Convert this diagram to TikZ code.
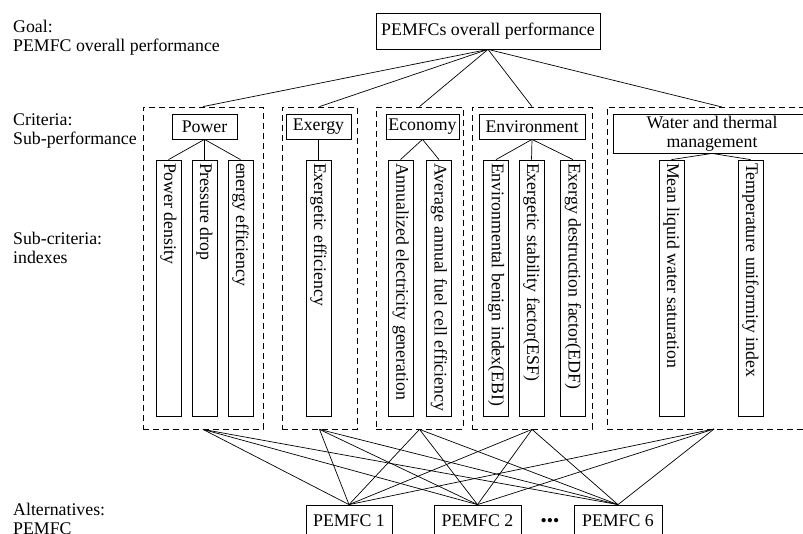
\documentclass[tikz,border=0pt]{standalone}
\usepackage{fontspec}
\setmainfont{Liberation Serif}
\begin{document}
\begin{tikzpicture}[x=1pt,y=-1pt]
\tikzset{
 base/.style={font=\fontsize{17.8}{19.5}\selectfont, inner sep=0pt},
 lbl/.style={base, anchor=base west, align=left},
 box/.style={base, draw, line width=0.8pt, minimum height=25pt},
 vbox/.style={base, draw, line width=0.8pt, rotate=-90, minimum width=256pt, minimum height=25pt, inner xsep=3pt},
 dbox/.style={draw, dash pattern=on 6pt off 4pt, line width=0.8pt, minimum height=322pt, inner sep=0pt},
 link/.style={line width=0.7pt},
}
\newcommand{\vtxt}[1]{\makebox[250pt][l]{#1}}
\useasboundingbox (0,0) rectangle (803,533);
\clip (0,0) rectangle (803,533);

% left labels
\node[lbl] (lg) at (13,51.5) {Goal:\\PEMFC overall performance};
\node[lbl] (lc) at (13,144.5) {Criteria:\\Sub-performance};
\node[lbl] (ls) at (13,263.5) {Sub-criteria:\\indexes};
\node[lbl] (la) at (13,534.5) {Alternatives:\\PEMFC};

% goal
\node[box, minimum width=224pt, minimum height=36pt] (goal) at (488,31) {PEMFCs overall performance};

% dashed groups
\node[dbox, minimum width=120pt] (dp) at (203,268) {};
\node[dbox, minimum width=75pt] (dx) at (319.5,268) {};
\node[dbox, minimum width=87pt] (de) at (419.5,268) {};
\node[dbox, minimum width=120pt] (dv) at (532,268) {};
\node[dbox, minimum width=223pt] (dw) at (718.5,268) {};
\coordinate (dwt) at (722,107);
\coordinate (dwb) at (714,429);

% criteria
\node[box, minimum width=65pt] (cp) at (204.5,126.5) {Power};
\node[box, minimum width=65pt] (cx) at (318.5,126.5) {Exergy};
\node[box, minimum width=73pt] (ce) at (422.5,126.5) {Economy};
\node[box, minimum width=106pt] (cv) at (532,126.5) {Environment};
\node[box, minimum width=198pt, minimum height=39pt, align=center] (cw) at (712,133.5) {Water and thermal\\management};

% sub-criteria
\node[vbox] (s1) at (168.5,288) {\vtxt{Power density}};
\node[vbox] (s2) at (204.5,288) {\vtxt{Pressure drop}};
\node[vbox] (s3) at (240.5,288) {\vtxt{energy efficiency}};
\node[vbox] (s4) at (318.5,288) {\vtxt{Exergetic efficiency}};
\node[vbox] (s5) at (400.5,288) {\vtxt{Annualized electricity generation}};
\node[vbox] (s6) at (439,288) {\vtxt{Average annual fuel cell efficiency}};
\node[vbox] (s7) at (496,288) {\vtxt{Environmental benign index(EBI)}};
\node[vbox] (s8) at (531.5,288) {\vtxt{Exergetic stability factor(ESF)}};
\node[vbox] (s9) at (573,288) {\vtxt{Exergy destruction factor(EDF)}};
\node[vbox] (s10) at (671.5,288) {\vtxt{Mean liquid water saturation}};
\node[vbox] (s11) at (750.5,288) {\vtxt{Temperature uniformity index}};

% alternatives
\node[box, minimum width=86pt, minimum height=32pt] (a1) at (349,521) {PEMFC 1};
\node[box, minimum width=87pt, minimum height=32pt] (a2) at (477.5,521) {PEMFC 2};
\node[box, minimum width=88pt, minimum height=32pt] (a6) at (618,521) {PEMFC 6};
\node[base, anchor=base] (dots) at (550,526) {\textbullet\textbullet\textbullet};

% goal links
\foreach \t in {dp,dx,de,dv} \draw[link] (goal.south) -- (\t.north);
\draw[link] (goal.south) -- (dwt);

% criteria links
\foreach \t in {s1,s2,s3} \draw[link] (cp.south) -- (\t.west);
\draw[link] (cx.south) -- (s4.west);
\foreach \t in {s5,s6} \draw[link] (ce.south) -- (\t.west);
\foreach \t in {s7,s8,s9} \draw[link] (cv.south) -- (\t.west);
\foreach \t in {s10,s11} \draw[link] (cw.south) -- (\t.west);

% alternative links
\foreach \a in {a1,a2,a6}{
  \foreach \g in {dp,dx,de,dv} \draw[link] (\g.south) -- (\a.north);
  \draw[link] (dwb) -- (\a.north);
}
\end{tikzpicture}
\end{document}
